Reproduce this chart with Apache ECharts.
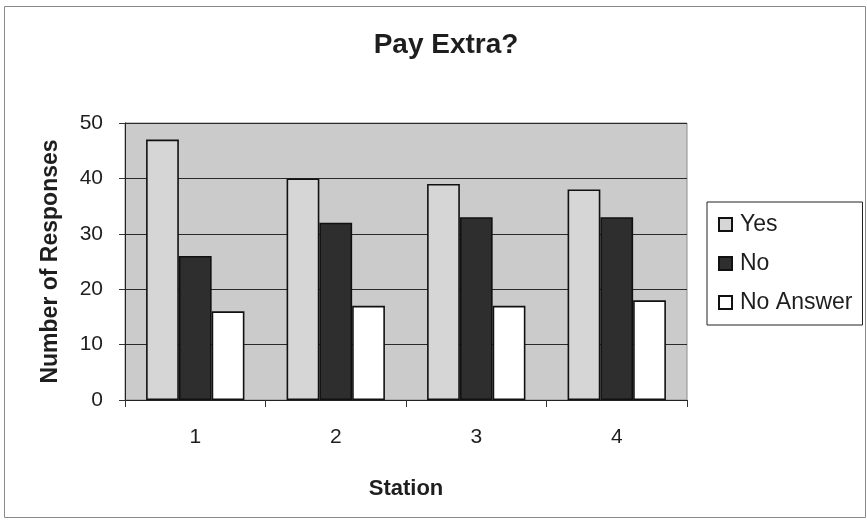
<!DOCTYPE html>
<html>
<head>
<meta charset="utf-8">
<script src="https://cdn.jsdelivr.net/npm/echarts@6/dist/echarts.min.js"></script>
<style>
  html, body { margin: 0; padding: 0; background: #ffffff; }
  #chart { width: 867px; height: 523px; }
</style>
</head>
<body>
<div id="chart"></div>
<script>
// Survey responses per station
const stations = ['1', '2', '3', '4'];
const yesValues = [47, 40, 39, 38];
const noValues = [26, 32, 33, 33];
const noAnswerValues = [16, 17, 17, 18];
const seriesNames = ['Yes', 'No', 'No Answer'];

const chart = echarts.init(document.getElementById('chart'), null, { renderer: 'canvas' });

const FONT = '"Liberation Sans", Arial, sans-serif';
const INK = '#1e1e1e';

const barStyle = (fill) => ({ color: fill, borderColor: '#111', borderWidth: 1.6 });

chart.setOption({
  backgroundColor: '#ffffff',
  animation: false,
  title: {
    text: 'Pay Extra?',
    left: 441, top: 26, textAlign: 'center',
    textStyle: { fontFamily: FONT, fontSize: 28, fontWeight: 'bold', color: INK }
  },
  graphic: [{
    type: 'rect',
    shape: { x: 4.5, y: 6.5, width: 861, height: 511 },
    style: { fill: 'none', stroke: '#8a8a8a', lineWidth: 1 },
    silent: true
  }],
  legend: {
    orient: 'vertical',
    left: 707, top: 202,
    padding: [11, 10, 11, 11],
    itemGap: 16,
    itemWidth: 13, itemHeight: 13,
    icon: 'rect',
    backgroundColor: '#ffffff',
    borderColor: '#222',
    borderWidth: 1,
    borderRadius: 0,
    textStyle: { fontFamily: FONT, fontSize: 23, color: INK, padding: [0, 0, 0, 3] },
    data: seriesNames
  },
  grid: {
    left: 125, right: 180, top: 123, bottom: 123,
    show: true,
    backgroundColor: '#cbcbcb',
    borderColor: '#8c8c8c',
    borderWidth: 1
  },
  xAxis: {
    type: 'category',
    data: stations,
    name: 'Station',
    nameLocation: 'middle',
    nameGap: 78,
    nameTextStyle: { fontFamily: FONT, fontSize: 22, fontWeight: 'bold', color: INK },
    axisLine: { lineStyle: { color: '#222', width: 1 } },
    axisTick: { show: true, length: 7, lineStyle: { color: '#333' } },
    axisLabel: { fontFamily: FONT, fontSize: 21, color: INK, margin: 27 }
  },
  yAxis: {
    type: 'value',
    min: 0, max: 50, interval: 10,
    name: 'Number of Responses',
    nameLocation: 'middle',
    nameGap: 63,
    nameTextStyle: { fontFamily: FONT, fontSize: 23, fontWeight: 'bold', color: INK },
    axisLine: { show: true, lineStyle: { color: '#222', width: 1 } },
    axisTick: { show: true, length: 6, lineStyle: { color: '#333' } },
    axisLabel: { fontFamily: FONT, fontSize: 21, color: INK, margin: 22 },
    splitLine: { lineStyle: { color: '#2a2a2a', width: 1 } }
  },
  series: [
    { name: seriesNames[0], type: 'bar', data: yesValues, barGap: '0%', barCategoryGap: '30%', itemStyle: barStyle('#d6d6d6') },
    { name: seriesNames[1], type: 'bar', data: noValues, itemStyle: barStyle('#2e2e2e') },
    { name: seriesNames[2], type: 'bar', data: noAnswerValues, itemStyle: barStyle('#ffffff') }
  ]
});
</script>
</body>
</html>
